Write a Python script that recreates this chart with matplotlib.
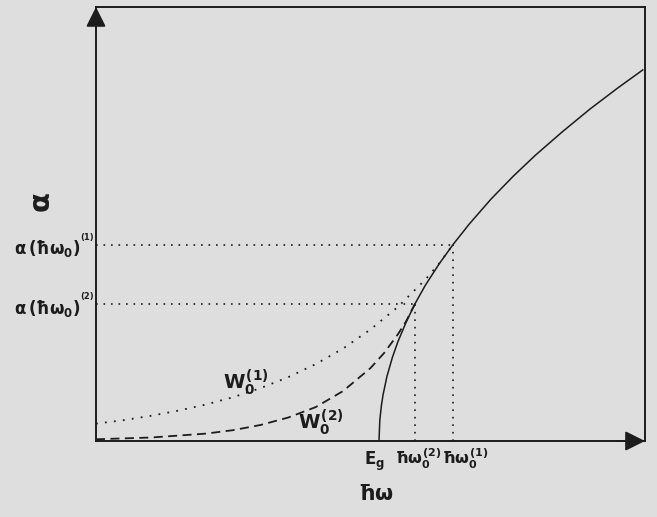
import matplotlib
matplotlib.use("Agg")
import matplotlib.pyplot as plt

# absorption edge (solid)
edge_x = [5.155, 5.17, 5.2, 5.23, 5.3, 5.4, 5.5, 5.65, 5.81, 6.0, 6.25, 6.5,
          6.8, 7.2, 7.6, 8.0, 8.5, 9.0, 9.5, 9.96]
edge_y = [0.0, 0.48, 0.83, 1.07, 1.49, 1.93, 2.29, 2.74, 3.16, 3.59, 4.08, 4.52,
          5.00, 5.58, 6.10, 6.58, 7.13, 7.65, 8.13, 8.55]

# exponential tail W0(1) (dotted)
tail1_x = [0, 0.5, 1, 1.5, 2, 2.5, 3, 3.5, 4, 4.5, 5, 5.5, 6, 6.25, 6.5]
tail1_y = [0.40, 0.48, 0.58, 0.70, 0.84, 1.01, 1.22, 1.47, 1.77, 2.13, 2.57,
           3.09, 3.72, 4.09, 4.52]

# exponential tail W0(2) (dashed)
tail2_x = [0, 1, 2, 2.5, 3, 3.5, 4, 4.5, 5, 5.25, 5.5, 5.65, 5.81]
tail2_y = [0.04, 0.08, 0.17, 0.25, 0.37, 0.54, 0.78, 1.15, 1.68, 2.03, 2.46,
           2.76, 3.16]

# transition points
eg = 5.155
w_trans = [6.5, 5.81]        # hbar omega0 (1), (2)
a_trans = [4.52, 3.16]       # alpha(hbar omega0) (1), (2)
trans_tags = ["(1)", "(2)"]

plt.rcParams['mathtext.fontset'] = 'custom'
plt.rcParams['mathtext.rm'] = 'DejaVu Sans:bold'
plt.rcParams['mathtext.it'] = 'DejaVu Sans:bold'
plt.rcParams['mathtext.bf'] = 'DejaVu Sans:bold'

ink = '#1c1c1c'
bg = '#dedede'

fig = plt.figure(figsize=(6.57, 5.17), dpi=100, facecolor=bg)
ax = fig.add_axes([0.1461, 0.1470, 0.8356, 0.8395])
ax.set_facecolor(bg)
ax.set_xlim(0, 10)
ax.set_ylim(0, 10)
ax.set_xticks([])
ax.set_yticks([])
for s in ax.spines.values():
    s.set_color(ink)
    s.set_linewidth(1.4)

ax.plot(edge_x, edge_y, color=ink, lw=1.1)
ax.plot(tail1_x, tail1_y, color=ink, lw=1.3, linestyle=(0, (1, 4)))
ax.plot(tail2_x, tail2_y, color=ink, lw=1.3, linestyle=(0, (5, 3)))

for wx, ay, tag in zip(w_trans, a_trans, trans_tags):
    ax.plot([0, wx], [ay, ay], color=ink, lw=1.2, linestyle=(0, (1, 3.5)))
    ax.plot([wx, wx], [0, ay], color=ink, lw=1.2, linestyle=(0, (1, 3.5)))
    t = ax.annotate(r"$\alpha\,(\hbar\omega_0)$", xy=(0, ay),
                    xytext=(-11.5, -3), textcoords='offset points',
                    ha='right', va='center', fontsize=12, color=ink,
                    annotation_clip=False)
    ax.annotate(tag, xy=(1, 1), xycoords=t, xytext=(0.3, 0.5),
                textcoords='offset points', ha='left', va='center',
                fontsize=6, fontweight='bold', color=ink,
                annotation_clip=False)

# labels under the energy axis
ax.annotate(r"$E_g$", xy=(eg, 0), xytext=(-3, -6), textcoords='offset points',
            ha='center', va='top', fontsize=12, color=ink, annotation_clip=False)
ax.annotate(r"$\hbar\omega_0^{(2)}$", xy=(w_trans[1], 0), xytext=(2, -4),
            textcoords='offset points', ha='center', va='top', fontsize=11.5,
            color=ink, annotation_clip=False)
ax.annotate(r"$\hbar\omega_0^{(1)}$", xy=(w_trans[0], 0), xytext=(9, -4),
            textcoords='offset points', ha='center', va='top', fontsize=11.5,
            color=ink, annotation_clip=False)

ax.text(2.73, 1.36, r"$W_0^{(1)}$", ha='center', va='center', fontsize=14, color=ink)
ax.text(4.10, 0.44, r"$W_0^{(2)}$", ha='center', va='center', fontsize=14, color=ink)

ax.set_xlabel(r"$\hbar\omega$", fontsize=15, color=ink)
ax.xaxis.set_label_coords(0.51, -0.10)
ax.set_ylabel(r"$\alpha$", fontsize=21, color=ink)
ax.yaxis.set_label_coords(-0.072, 0.55)

# arrow heads on the axes
head = dict(arrowstyle='-|>,head_length=1.0,head_width=0.5', mutation_scale=12,
            color=ink, lw=1.4, shrinkA=0, shrinkB=0)
ax.annotate('', xy=(0, 1), xytext=(0, 0.95), xycoords='axes fraction',
            arrowprops=head, annotation_clip=False)
ax.annotate('', xy=(1, 0), xytext=(0.95, 0), xycoords='axes fraction',
            arrowprops=head, annotation_clip=False)

fig.savefig("out.png", dpi=100, facecolor=bg)
